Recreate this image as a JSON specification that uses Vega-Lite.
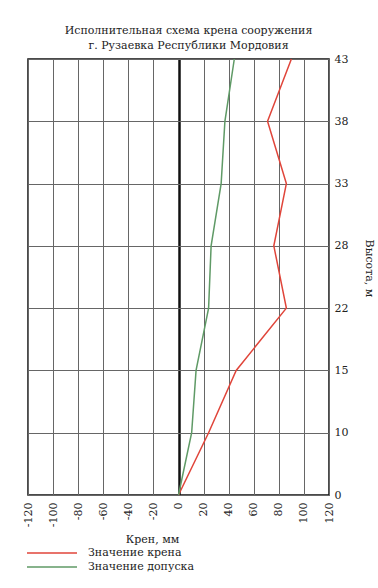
{
  "$schema": "https://vega.github.io/schema/vega-lite/v6.json",
  "width": 301,
  "height": 436,
  "autosize": {"type": "none"},
  "padding": {"left": 28, "top": 59, "right": 49, "bottom": 93},
  "background": "white",
  "title": {
    "text": ["Исполнительная схема крена сооружения", "г. Рузаевка Республики Мордовия"],
    "font": "DejaVu Serif",
    "fontSize": 11,
    "fontWeight": "normal",
    "color": "#222",
    "anchor": "middle",
    "lineHeight": 15,
    "offset": 2,
    "dx": 10
  },
  "config": {
    "view": {"stroke": "#111", "strokeWidth": 1.5},
    "axis": {"labelFont": "DejaVu Serif", "titleFont": "DejaVu Serif", "labelColor": "#222", "titleColor": "#222", "labelFontSize": 11, "titleFontSize": 11, "titleFontWeight": "normal", "domain": false, "ticks": false, "gridColor": "#666", "gridOpacity": 1},
    "legend": {"labelFont": "DejaVu Serif", "labelFontSize": 11, "labelColor": "#222"}
  },
  "data": {
    "values": [
      {"h": 0, "series": "Значение крена", "v": 0},
      {"h": 10, "series": "Значение крена", "v": 24},
      {"h": 15, "series": "Значение крена", "v": 46},
      {"h": 22, "series": "Значение крена", "v": 86},
      {"h": 28, "series": "Значение крена", "v": 76},
      {"h": 33, "series": "Значение крена", "v": 86},
      {"h": 38, "series": "Значение крена", "v": 71},
      {"h": 43, "series": "Значение крена", "v": 90},
      {"h": 0, "series": "Значение допуска", "v": 0},
      {"h": 10, "series": "Значение допуска", "v": 10.5},
      {"h": 15, "series": "Значение допуска", "v": 14},
      {"h": 22, "series": "Значение допуска", "v": 24},
      {"h": 28, "series": "Значение допуска", "v": 26},
      {"h": 33, "series": "Значение допуска", "v": 34},
      {"h": 38, "series": "Значение допуска", "v": 37},
      {"h": 43, "series": "Значение допуска", "v": 44.5}
    ]
  },
  "mark": {"type": "line", "strokeWidth": 1.5},
  "encoding": {
    "y": {
      "field": "h",
      "type": "ordinal",
      "scale": {"type": "point", "padding": 0, "domain": [43, 38, 33, 28, 22, 15, 10, 0]},
      "axis": {"orient": "right", "title": "Высота, м", "labelPadding": 5, "labelAlign": "left", "grid": true, "gridWidth": 1, "titleAngle": 90, "titleX": 39, "titleY": 209, "titleAlign": "center", "titleBaseline": "middle"}
    },
    "x": {
      "field": "v",
      "type": "quantitative",
      "scale": {"domain": [-120, 120], "nice": false, "zero": false},
      "axis": {
        "values": [-120, -100, -80, -60, -40, -20, 0, 20, 40, 60, 80, 100, 120],
        "labelExpr": "datum.value < 0 ? '-' + abs(datum.value) : '' + datum.value",
        "labelOverlap": false,
        "labelAngle": -90,
        "labelAlign": "right",
        "labelBaseline": "middle",
        "labelPadding": 7,
        "grid": true,
        "gridWidth": {"condition": {"test": "datum.value === 0", "value": 2.5}, "value": 1},
        "gridColor": {"condition": {"test": "datum.value === 0", "value": "#111"}, "value": "#666"},
        "title": "Крен, мм",
        "titleX": 124,
        "titleY": 47,
        "titleBaseline": "alphabetic",
        "titleAnchor": "middle",
        "titleAlign": "center"
      }
    },
    "order": {"field": "h", "type": "quantitative"},
    "color": {
      "field": "series",
      "type": "nominal",
      "scale": {"domain": ["Значение крена", "Значение допуска"], "range": ["#e0453a", "#5f9a66"]},
      "legend": {"title": null, "orient": "none", "legendX": 18, "legendY": 488, "padding": 0, "symbolType": "M-5,0H5", "symbolSize": 100, "symbolStrokeWidth": 1.5, "symbolFillColor": "transparent", "rowPadding": 3, "labelOffset": 30}
    }
  }
}
